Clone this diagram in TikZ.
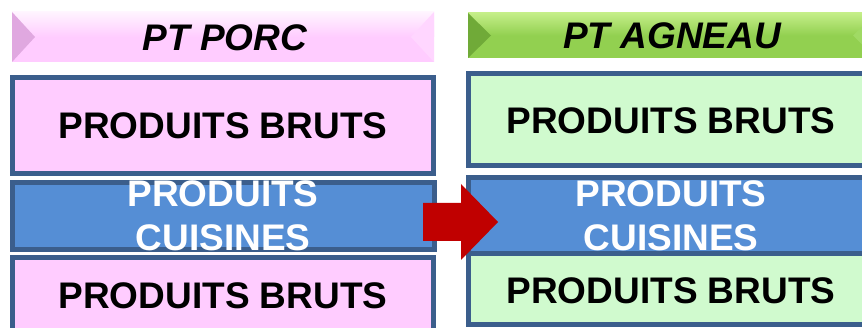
\documentclass[tikz,border=0pt]{standalone}
\usepackage{fontspec}
\setmainfont{Liberation Sans}
\usetikzlibrary{calc}

\definecolor{frame}{RGB}{59,94,140}
\definecolor{cookblue}{RGB}{85,142,213}
\definecolor{porcpink}{RGB}{255,204,255}
\definecolor{porclight}{RGB}{255,244,255}
\definecolor{porcbevelL}{RGB}{224,168,224}
\definecolor{porcbevelR}{RGB}{255,214,255}
\definecolor{agneaugreen}{RGB}{208,250,206}
\definecolor{hdrgreen}{RGB}{146,208,80}
\definecolor{hdrgreenlight}{RGB}{196,238,136}
\definecolor{greenbevelL}{RGB}{112,170,56}
\definecolor{greenbevelR}{RGB}{160,218,100}
\definecolor{arrowred}{RGB}{192,0,0}

\begin{document}
\begin{tikzpicture}[x=1pt,y=-1pt,
  box/.style={draw=frame, line width=5pt, inner sep=0pt, outer sep=0pt},
  lbl/.style={font=\fontsize{37}{44}\selectfont\bfseries, align=center, inner sep=0pt},
  hdrtext/.style={font=\fontsize{37}{44}\selectfont\bfseries\itshape, inner sep=0pt},
  hdrbar/.style n args={4}{inner sep=0pt, outer sep=0pt,
    path picture={
      \fill[#1] (path picture bounding box.south west) rectangle (path picture bounding box.north east);
      \shade[top color=#2, bottom color=#1] (path picture bounding box.north west) rectangle (path picture bounding box.east);
      \fill[#3] (path picture bounding box.north west) -- ([xshift=23pt]path picture bounding box.west)
        -- (path picture bounding box.south west) -- cycle;
      \fill[#4] (path picture bounding box.north east) -- ([xshift=-23pt]path picture bounding box.east)
        -- (path picture bounding box.south east) -- cycle;
    }}]

\useasboundingbox (0,0) rectangle (862,328);
\clip (0,0) rectangle (862,328);
\fill[white] (0,0) rectangle (862,328);

% headers
\node[hdrbar={porcpink}{porclight}{porcbevelL}{porcbevelR}, minimum width=422pt, minimum height=50pt]
  (hdrporc) at (223,37) {};
\node[hdrtext] (tporc) at (225,37.5) {PT PORC};
\node[hdrbar={hdrgreen}{hdrgreenlight}{greenbevelL}{greenbevelR}, minimum width=408pt, minimum height=45pt]
  (hdragneau) at (672,35.5) {};
\node[hdrtext] (tagneau) at (672,36) {PT AGNEAU};

% left column (porc)
\node[box, fill=porcpink, minimum width=421pt, minimum height=96pt] (lb1) at (223,125.5) {};
\node[box, fill=porcpink, minimum width=421pt, minimum height=76pt] (lb3) at (223,295.5) {};
\node[box, fill=cookblue, minimum width=422pt, minimum height=67pt] (lb2) at (223.5,216) {};

% right column (agneau)
\node[box, fill=agneaugreen, minimum width=405pt, minimum height=92pt] (rb1) at (671,119.5) {};
\node[box, fill=agneaugreen, minimum width=405pt, minimum height=71pt] (rb3) at (671,289) {};
\node[box, fill=cookblue, minimum width=405pt, minimum height=76pt] (rb2) at (671,215.5) {};

% box labels
\node[lbl] (tl1) at (223,125.5) {PRODUITS BRUTS};
\node[lbl, text=white] (tl2) at (223,216) {PRODUITS\\CUISINES};
\node[lbl] (tl3) at (223,295.5) {PRODUITS BRUTS};
\node[lbl] (tr1) at (671,120.5) {PRODUITS BRUTS};
\node[lbl, text=white] (tr2) at (671,216) {PRODUITS\\CUISINES};
\node[lbl] (tr3) at (671,291) {PRODUITS BRUTS};

% block arrow from the porc column to the agneau column
\coordinate (ashaft) at (423,222);
\coordinate (atip) at (498,222);
\fill[arrowred] ($(ashaft)+(0,-19)$) -- ($(atip)+(-37,-19)$) -- ($(atip)+(-37,-38)$) -- (atip)
  -- ($(atip)+(-37,38)$) -- ($(atip)+(-37,19)$) -- ($(ashaft)+(0,19)$) -- cycle;

\end{tikzpicture}
\end{document}
